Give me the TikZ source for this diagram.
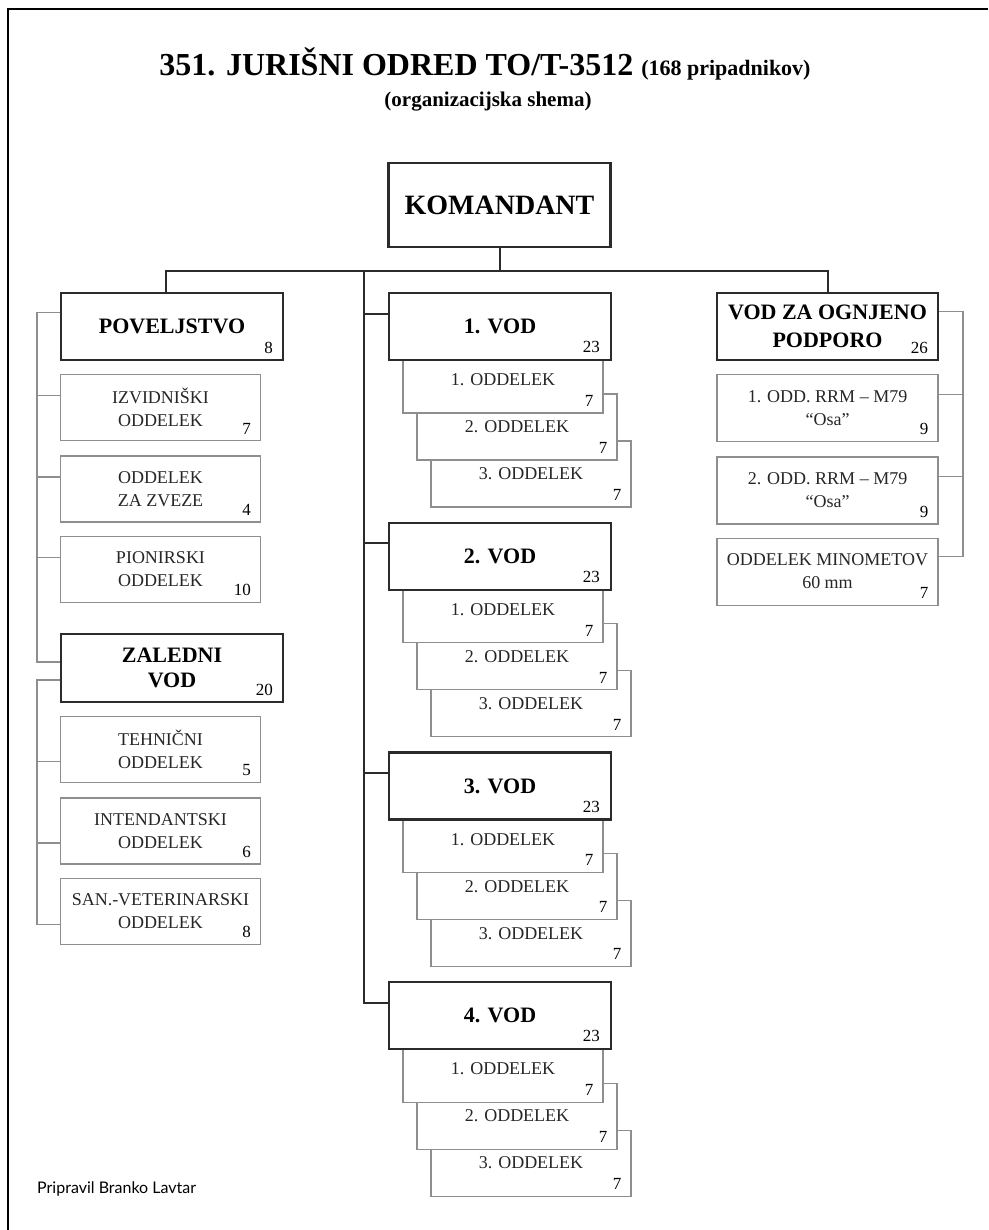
\documentclass[tikz,border=0pt]{standalone}
\usepackage{fontspec}
\setmainfont{Liberation Serif}
\newfontfamily\podpis{Lato}
\usepackage{xcolor}
\usetikzlibrary{positioning, calc}

\definecolor{temna}{HTML}{2B2B2B}
\definecolor{siva}{HTML}{8E8E8E}

\tikzset{
  okvir/.style={draw=black, line width=1.4pt},
  naslov/.style={anchor=base, inner sep=0pt, font=\bfseries\fontsize{32}{36}\selectfont},
  glavni/.style={draw=temna, line width=2.2pt, fill=white, minimum width=222pt, minimum height=67pt,
    inner sep=3pt, align=center, font=\bfseries\fontsize{22}{25}\selectfont},
  enota/.style={draw=siva, line width=1.2pt, fill=white, minimum width=200pt, minimum height=66pt,
    inner sep=3pt, align=center, text=black!85, font=\fontsize{18}{23}\selectfont},
  stevilo/.style={anchor=south east, inner sep=0pt, font=\fontsize{17}{17}\selectfont},
  vez/.style={draw=temna, line width=2pt},
  tanka/.style={draw=siva, line width=1.2pt},
}

\begin{document}
\begin{tikzpicture}[x=1pt,y=-1pt]
\useasboundingbox (0,0) rectangle (988,1230);
\draw[okvir] (8,1230) -- (8,9) -- (988,9);

\node[naslov] (nasl) at (485,76) {351. JURIŠNI ODRED TO/T-3512 {\fontsize{22}{24}\selectfont(168 pripadnikov)}};
\node[naslov, font=\bfseries\fontsize{21}{24}\selectfont] (podnasl) at (488,107) {(organizacijska shema)};

\node[glavni, minimum height=84pt, font=\bfseries\fontsize{28}{30}\selectfont] (kom) at (499.5,205) {KOMANDANT};
\coordinate (vrh) at ($(kom.south)+(0,23)$);

% levi stolpec
\node[glavni] (pov) at (172,326.5) {POVELJSTVO};
\node[stevilo] (pov-n) at ([xshift=-11pt,yshift=7pt]pov.south east) {8};
\node[enota, below=13pt of pov.south west, anchor=north west] (izv) {IZVIDNIŠKI\\ODDELEK};
\node[stevilo] (izv-n) at ([xshift=-10pt,yshift=7pt]izv.south east) {7};
\node[enota, below=14pt of izv.south west, anchor=north west] (zve) {ODDELEK\\ZA ZVEZE};
\node[stevilo] (zve-n) at ([xshift=-10pt,yshift=7pt]zve.south east) {4};
\node[enota, below=13pt of zve.south west, anchor=north west] (pio) {PIONIRSKI\\ODDELEK};
\node[stevilo] (pio-n) at ([xshift=-10pt,yshift=7pt]pio.south east) {10};

\node[glavni, minimum height=68pt] (zal) at (172,668) {ZALEDNI\\VOD};
\node[stevilo] (zal-n) at ([xshift=-11pt,yshift=7pt]zal.south east) {20};
\node[enota, below=13pt of zal.south west, anchor=north west] (teh) {TEHNIČNI\\ODDELEK};
\node[stevilo] (teh-n) at ([xshift=-10pt,yshift=7pt]teh.south east) {5};
\node[enota, below=14pt of teh.south west, anchor=north west] (int) {INTENDANTSKI\\ODDELEK};
\node[stevilo] (int-n) at ([xshift=-10pt,yshift=7pt]int.south east) {6};
\node[enota, below=13pt of int.south west, anchor=north west] (san) {SAN.-VETERINARSKI\\ODDELEK};
\node[stevilo] (san-n) at ([xshift=-10pt,yshift=7pt]san.south east) {8};

\coordinate (lv) at (37,0);
\draw[tanka] ([yshift=14pt]pov.west) -| ([yshift=6pt]lv |- zal.west) -- ([yshift=6pt]zal.west);
\foreach \e in {izv,zve,pio}
  \draw[tanka] ([yshift=12pt]\e.west) -- ([yshift=12pt]\e.west -| lv);
\draw[tanka] ([yshift=-12pt]zal.west) -| ([yshift=-13pt]lv |- san.west) -- ([yshift=-13pt]san.west);
\foreach \e in {teh,int}
  \draw[tanka] ([yshift=-12pt]\e.west) -- ([yshift=-12pt]\e.west -| lv);

% srednji stolpec
\foreach \v in {1,...,4}
{
  \pgfmathsetmacro{\vy}{326.5+(\v-1)*229.7}
  \foreach \o in {3,2,1}
  {
    \node[enota] (o\v-\o) at ({489+14*\o},{\vy+53.5+47*(\o-1)}) {\o. ODDELEK};
    \node[stevilo] (o\v-\o-n) at ([xshift=-10pt,yshift=7pt]o\v-\o.south east) {7};
  }
  \node[glavni] (vod\v) at (500,\vy) {\v. VOD};
  \node[stevilo] (vod\v-n) at ([xshift=-12pt,yshift=8pt]vod\v.south east) {23};
  \coordinate (t\v) at ([yshift=13pt]vod\v.west);
}
\coordinate (deblo) at (364,270);
\draw[vez] (deblo) |- (t4);
\foreach \v in {1,2,3}
  \draw[vez] (t\v) -- (t\v -| deblo);

% desni stolpec
\node[glavni, minimum width=221pt, font=\bfseries\fontsize{22}{28}\selectfont] (ogenj) at (827.5,326.5) {VOD ZA OGNJENO\\PODPORO};
\node[stevilo] (ogenj-n) at ([xshift=-11pt,yshift=7pt]ogenj.south east) {26};
\node[enota, minimum width=221pt, minimum height=67pt, below=13pt of ogenj] (rrm1) {1. ODD. RRM – M79\\“Osa”};
\node[stevilo] (rrm1-n) at ([xshift=-10pt,yshift=7pt]rrm1.south east) {9};
\node[enota, minimum width=221pt, minimum height=67pt, below=14pt of rrm1] (rrm2) {2. ODD. RRM – M79\\“Osa”};
\node[stevilo] (rrm2-n) at ([xshift=-10pt,yshift=7pt]rrm2.south east) {9};
\node[enota, minimum width=221pt, minimum height=67pt, below=13pt of rrm2] (min) {ODDELEK MINOMETOV\\60 mm};
\node[stevilo] (min-n) at ([xshift=-10pt,yshift=7pt]min.south east) {7};

\coordinate (dv) at (963,0);
\draw[tanka] ([yshift=15pt]ogenj.east) -| ([yshift=15pt]dv |- min.east) -- ([yshift=15pt]min.east);
\foreach \e in {rrm1,rrm2}
  \draw[tanka] ([yshift=14pt]\e.east) -- ([yshift=14pt]\e.east -| dv);

% povezave od komandanta
\draw[vez] (kom) -- (vrh);
\draw[vez] ([xshift=-6pt]pov.north) |- (vrh) -| (ogenj.north);

\node[anchor=base west, inner sep=0pt, font=\podpis\fontsize{16}{19}\selectfont] (avtor) at (37,1193) {Pripravil Branko Lavtar};
\end{tikzpicture}
\end{document}
